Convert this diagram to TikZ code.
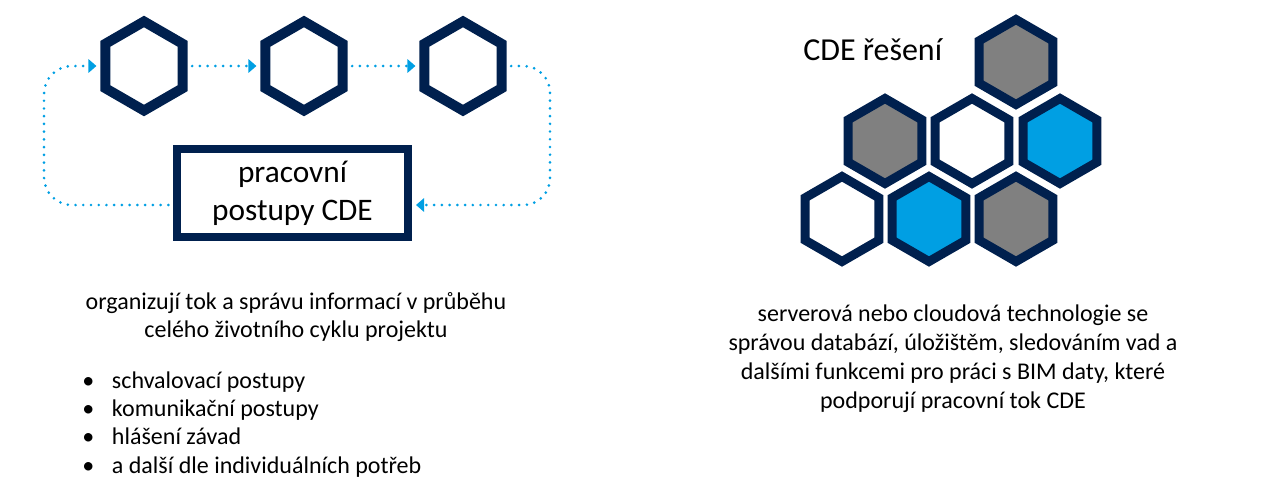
\documentclass[tikz,border=0pt]{standalone}
\usepackage{fontspec}
\setmainfont{Carlito}
\usetikzlibrary{arrows.meta,calc,positioning,shapes.geometric}
\definecolor{cdenavy}{HTML}{00204E}
\definecolor{cdeblue}{HTML}{009FE3}
\definecolor{cdegray}{HTML}{808080}
\tikzset{
  hexl/.style={regular polygon, regular polygon sides=6, shape border rotate=30,
    minimum size=66.75pt, inner sep=0pt, line width=7.5pt, draw=cdenavy, fill=white},
  hexs/.style={regular polygon, regular polygon sides=6, shape border rotate=30,
    minimum size=63.75pt, inner sep=0pt, line width=6.75pt, draw=cdenavy},
  tok/.style={cdeblue, line width=2.2pt, line cap=round, dash pattern=on 0pt off 5.8pt,
    -{Triangle[length=6pt,width=10pt]}, shorten >=3pt, shorten <=3.5pt},
  velky/.style={font=\fontsize{23.5}{28.5}\selectfont},
  maly/.style={font=\fontsize{18}{21}\selectfont, inner sep=0pt}
}
\newcommand{\bod}{\makebox[22.3pt][l]{•}}
\begin{document}
\begin{tikzpicture}[x=0.75pt, y=-0.75pt]
\useasboundingbox (0,0) rectangle (1279,486);
% pracovni postupy
\node[hexl] (krok1) at (144,66) {};
\node[hexl] (krok2) at (304,66) {};
\node[hexl] (krok3) at (463,66) {};
\node[velky, draw=cdenavy, line width=6pt, minimum width=173.25pt, minimum height=66pt,
  align=center, inner sep=0pt] (postupy) at (292.5,193) {pracovní\\postupy CDE};
% smycka
\coordinate (vpravo) at (550,205);
\coordinate (vlevo) at (44,205);
\draw[tok] (krok1) -- (krok2);
\draw[tok] (krok2) -- (krok3);
\draw[tok, rounded corners=20pt] (krok3.east) -| (vpravo) -- (vpravo -| postupy.east);
\draw[tok, rounded corners=21pt] (vlevo -| postupy.west) -- (vlevo) |- (krok1.west);
% popis vlevo
\node[maly, align=center, anchor=base, font=\fontsize{18}{20.8}\selectfont] (popis) at (296,337)
  {organizují tok a správu informací v průběhu\\celého životního cyklu projektu};
\node[maly, align=left, anchor=base west, font=\fontsize{18}{21.2}\selectfont] (body) at (82,473)
  {\bod schvalovací postupy\\\bod komunikační postupy\\\bod hlášení závad\\\bod a další dle individuálních potřeb};
% CDE reseni
\node[font=\fontsize{24}{29}\selectfont, anchor=base west, inner sep=0pt] (reseni) at (803,60) {CDE řešení};
\foreach \nm/\x/\y/\barva in {plast1/1016/62/cdegray, plast2/885/141/cdegray,
  plast3/972/141/white, plast4/1060/141/cdeblue, plast5/842/219/white,
  plast6/929/219/cdeblue, plast7/1016/219/cdegray}{
  \node[hexs, fill=\barva] (\nm) at (\x,\y) {};
}
\node[maly, align=center, anchor=base, font=\fontsize{18}{21.75}\selectfont] (technologie) at (953,408)
  {serverová nebo cloudová technologie se\\správou databází, úložištěm, sledováním vad a\\dalšími funkcemi pro práci s BIM daty, které\\podporují pracovní tok CDE};
\end{tikzpicture}
\end{document}
